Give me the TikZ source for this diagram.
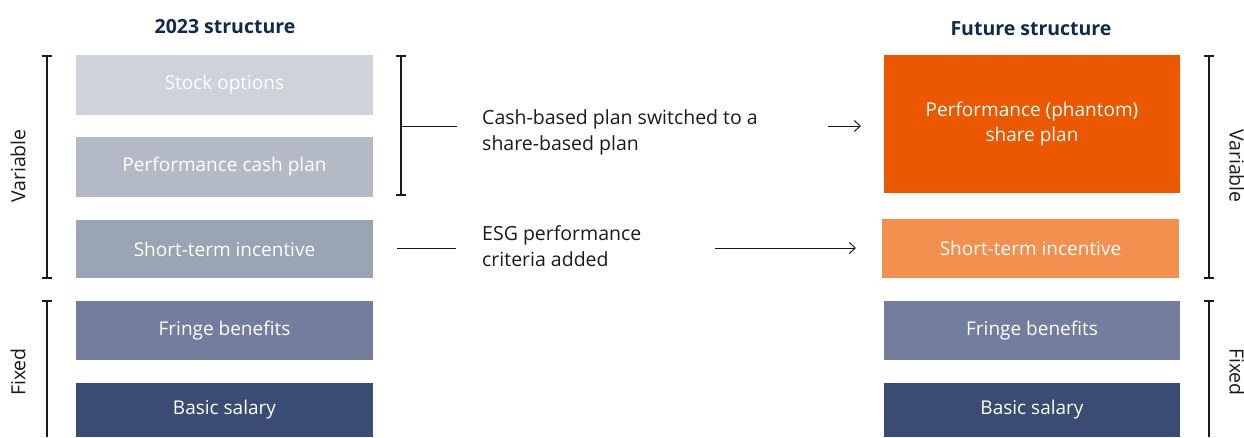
\documentclass[tikz,border=0pt]{standalone}
\usepackage{fontspec}
\setmainfont{Open Sans}
\usetikzlibrary{arrows.meta}
\definecolor{navy}{HTML}{0E2A4F}
\definecolor{cso}{HTML}{CDD2DB}
\definecolor{cpc}{HTML}{B3BAC5}
\definecolor{csti}{HTML}{99A5B2}
\definecolor{cfb}{HTML}{737E9E}
\definecolor{cbs}{HTML}{3A4C74}
\definecolor{corange}{HTML}{EC5800}
\definecolor{clorange}{HTML}{F3904F}
\definecolor{txt}{HTML}{1A1A1A}
\tikzset{
  box/.style={draw=none, inner sep=0pt, minimum width=297pt, text=white, font=\fontsize{19}{25}\selectfont, align=center},
  head/.style={text=navy, font=\fontsize{19.5}{22}\selectfont\bfseries},
  note/.style={text=txt, font=\fontsize{19.5}{26}\selectfont, align=left, anchor=west, inner sep=0pt},
  brk/.style={line width=1.2pt, draw=txt},
  side/.style={text=txt, font=\fontsize{19.5}{22}\selectfont},
  arr/.style={line width=1pt, draw=txt, -{Straight Barb[length=6pt,width=11pt,line width=1pt]}}
}
\begin{document}
\begin{tikzpicture}[x=1pt,y=-1pt]
\useasboundingbox (0,0) rectangle (1244,437);
% headings
\node[head] (h1) at (225,27) {2023 structure};
\node[head] (h2) at (1031,29) {Future structure};
% left boxes
\node[box, fill=cso, minimum height=60pt, text=white!95!cso] (so) at (224.5,85) {Stock options};
\node[box, fill=cpc, minimum height=60pt] (pc) at (224.5,167) {Performance cash plan};
\node[box, fill=csti, minimum height=58pt] (sti) at (224.5,249) {Short-term incentive};
\node[box, fill=cfb, minimum height=59pt] (fb) at (224.5,330.5) {Fringe benefits};
\node[box, fill=cbs, minimum height=54pt] (bs) at (224.5,410) {Basic salary};
% right boxes
\node[box, fill=corange, minimum height=138pt, minimum width=296pt] (ps) at (1032,124) {Performance (phantom)\\share plan};
\node[box, fill=clorange, minimum height=59pt, minimum width=297pt] (sti2) at (1030.5,248.5) {Short-term incentive};
\node[box, fill=cfb, minimum height=59pt, minimum width=296pt] (fb2) at (1032,330.5) {Fringe benefits};
\node[box, fill=cbs, minimum height=54pt, minimum width=296pt] (bs2) at (1032,410) {Basic salary};
% left brackets
\draw[brk] (42,56) -- (52,56) (47,56) -- (47,278) (42,278) -- (52,278);
\draw[brk] (42,301) -- (52,301) (47,301) -- (47,437);
\node[side, rotate=90] (lv) at (18,166) {Variable};
\node[side, rotate=90] (lf) at (18,372) {Fixed};
% right brackets
\draw[brk] (1204,56) -- (1214,56) (1209,56) -- (1209,278) (1204,278) -- (1214,278);
\draw[brk] (1204,301) -- (1214,301) (1209,301) -- (1209,437);
\node[side, rotate=-90] (rv) at (1237,166) {Variable};
\node[side, rotate=-90] (rf) at (1237,372) {Fixed};
% middle bracket
\draw[brk] (396,56) -- (406,56) (401,56) -- (401,195) (396,195) -- (406,195);
\draw[brk, line width=1pt] (401,126) -- (457,126);
\node[note] (n1) at (482,132) {Cash-based plan switched to a\\share-based plan};
\coordinate (a1s) at (828,126);
\coordinate (a1e) at (861,126);
\draw[arr] (a1s) -- (a1e);
% ESG
\coordinate (e1) at (397,248);
\coordinate (e2) at (456,248);
\draw[brk, line width=1pt] (e1) -- (e2);
\node[note] (n2) at (482,246) {ESG performance\\criteria added};
\coordinate (a2s) at (715,248);
\coordinate (a2e) at (856,248);
\draw[arr] (a2s) -- (a2e);
\end{tikzpicture}
\end{document}
